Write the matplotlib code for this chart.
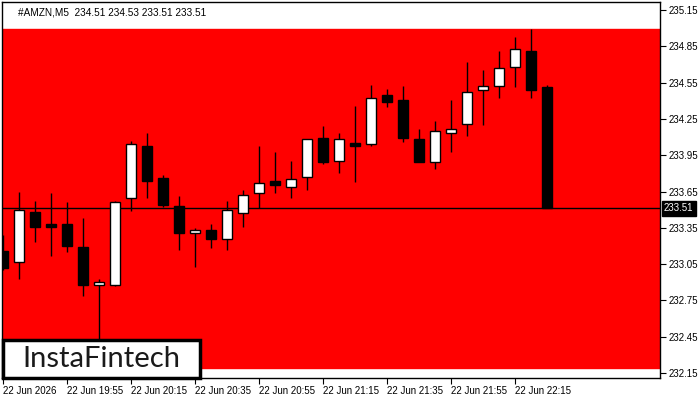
import matplotlib
matplotlib.use("Agg")
import matplotlib.pyplot as plt
from matplotlib.patches import Rectangle

# AMZN M5 candles, 19:35 .. 22:25
opens = [233.16, 233.07, 233.48, 233.38, 233.38, 233.19, 232.88, 232.88, 233.60, 234.03,
         233.76, 233.53, 233.31, 233.33, 233.26, 233.47, 233.64, 233.74, 233.69, 233.77,
         234.09, 233.90, 234.05, 234.04, 234.45, 234.41, 234.08, 233.89, 234.13, 234.21,
         234.49, 234.52, 234.68, 234.81, 234.51]
highs = [233.29, 233.65, 233.57, 233.64, 233.56, 233.43, 232.93, 233.57, 234.07, 234.13,
         233.79, 233.61, 233.35, 233.38, 233.57, 233.66, 234.03, 233.98, 233.90, 234.08,
         234.19, 234.13, 234.36, 234.53, 234.50, 234.52, 234.17, 234.23, 234.41, 234.72,
         234.65, 234.81, 234.93, 234.99, 234.53]
lows = [233.00, 232.93, 233.23, 233.12, 233.15, 232.79, 232.19, 232.87, 233.49, 233.60,
        233.52, 233.17, 233.03, 233.18, 233.17, 233.36, 233.51, 233.64, 233.60, 233.66,
        233.88, 233.80, 233.73, 234.03, 234.35, 234.06, 233.89, 233.84, 233.98, 234.11,
        234.20, 234.42, 234.51, 234.42, 233.51]
closes = [233.02, 233.50, 233.36, 233.36, 233.20, 232.88, 232.90, 233.56, 234.04, 233.74,
          233.54, 233.31, 233.33, 233.26, 233.50, 233.62, 233.72, 233.70, 233.75, 234.08,
          233.89, 234.08, 234.03, 234.42, 234.39, 234.09, 233.89, 234.15, 234.17, 234.47,
          234.52, 234.67, 234.83, 234.49, 233.51]

time_labels = ["22 Jun 2026", "22 Jun 19:55", "22 Jun 20:15", "22 Jun 20:35", "22 Jun 20:55",
               "22 Jun 21:15", "22 Jun 21:35", "22 Jun 21:55", "22 Jun 22:15"]
price_ticks = [232.15, 232.45, 232.75, 233.05, 233.35, 233.65, 233.95, 234.25, 234.55, 234.85, 235.15]
title_text = "#AMZN,M5  234.51 234.53 233.51 233.51"
last_price = 233.51

plt.rcParams['font.family'] = ['Liberation Sans', 'DejaVu Sans']

fig = plt.figure(figsize=(7, 4), dpi=100)
ax = fig.add_axes([2 / 700, 22 / 400, 658 / 700, 376 / 400])

# red zone over the whole range
ax.axhspan(min(lows), max(highs), color="#ff0000", zorder=0)
ax.axhline(last_price, color="black", lw=1, zorder=1)

x = list(range(len(opens)))
for i in x:
    o, h, l, c = opens[i], highs[i], lows[i], closes[i]
    ax.vlines(i, l, h, color="black", lw=1, zorder=2)
    col = "white" if c >= o else "black"
    ax.bar(i, abs(c - o), bottom=min(o, c), width=0.66, color=col,
           edgecolor="black", linewidth=1, zorder=3)

ax.set_xlim(-0.0625, 41.06)
ax.set_ylim(232.109, 235.216)

ax.yaxis.tick_right()
ax.set_yticks(price_ticks)
ax.set_yticklabels([f"{p:.2f}" for p in price_ticks])
ax.set_xticks(x[::4][:len(time_labels)])
ax.set_xticklabels(time_labels, ha="left")
ax.tick_params(axis="both", labelsize=7, length=4, width=0.8, colors="black", pad=2)
for s in ax.spines.values():
    s.set_linewidth(1)

ax.text(0.024, 0.985, title_text, transform=ax.transAxes, fontsize=7.2, va="top", ha="left")

ax.annotate(f"{last_price:.2f}", xy=(1.006, last_price), xycoords=("axes fraction", "data"),
            fontsize=7, color="white", va="center", ha="left",
            bbox=dict(boxstyle="square,pad=0.25", fc="black", ec="black"))

# logo box
fig.add_artist(Rectangle((3 / 700, 22 / 400), 197 / 700, 38 / 400, transform=fig.transFigure,
                         facecolor="white", edgecolor="black", linewidth=2.5, zorder=5))
fig.text(101 / 700, 41 / 400, "InstaFintech", fontsize=21, family="Lato", color="#1a1a1a",
         ha="center", va="center", zorder=6)

fig.savefig("out.png", dpi=100)
